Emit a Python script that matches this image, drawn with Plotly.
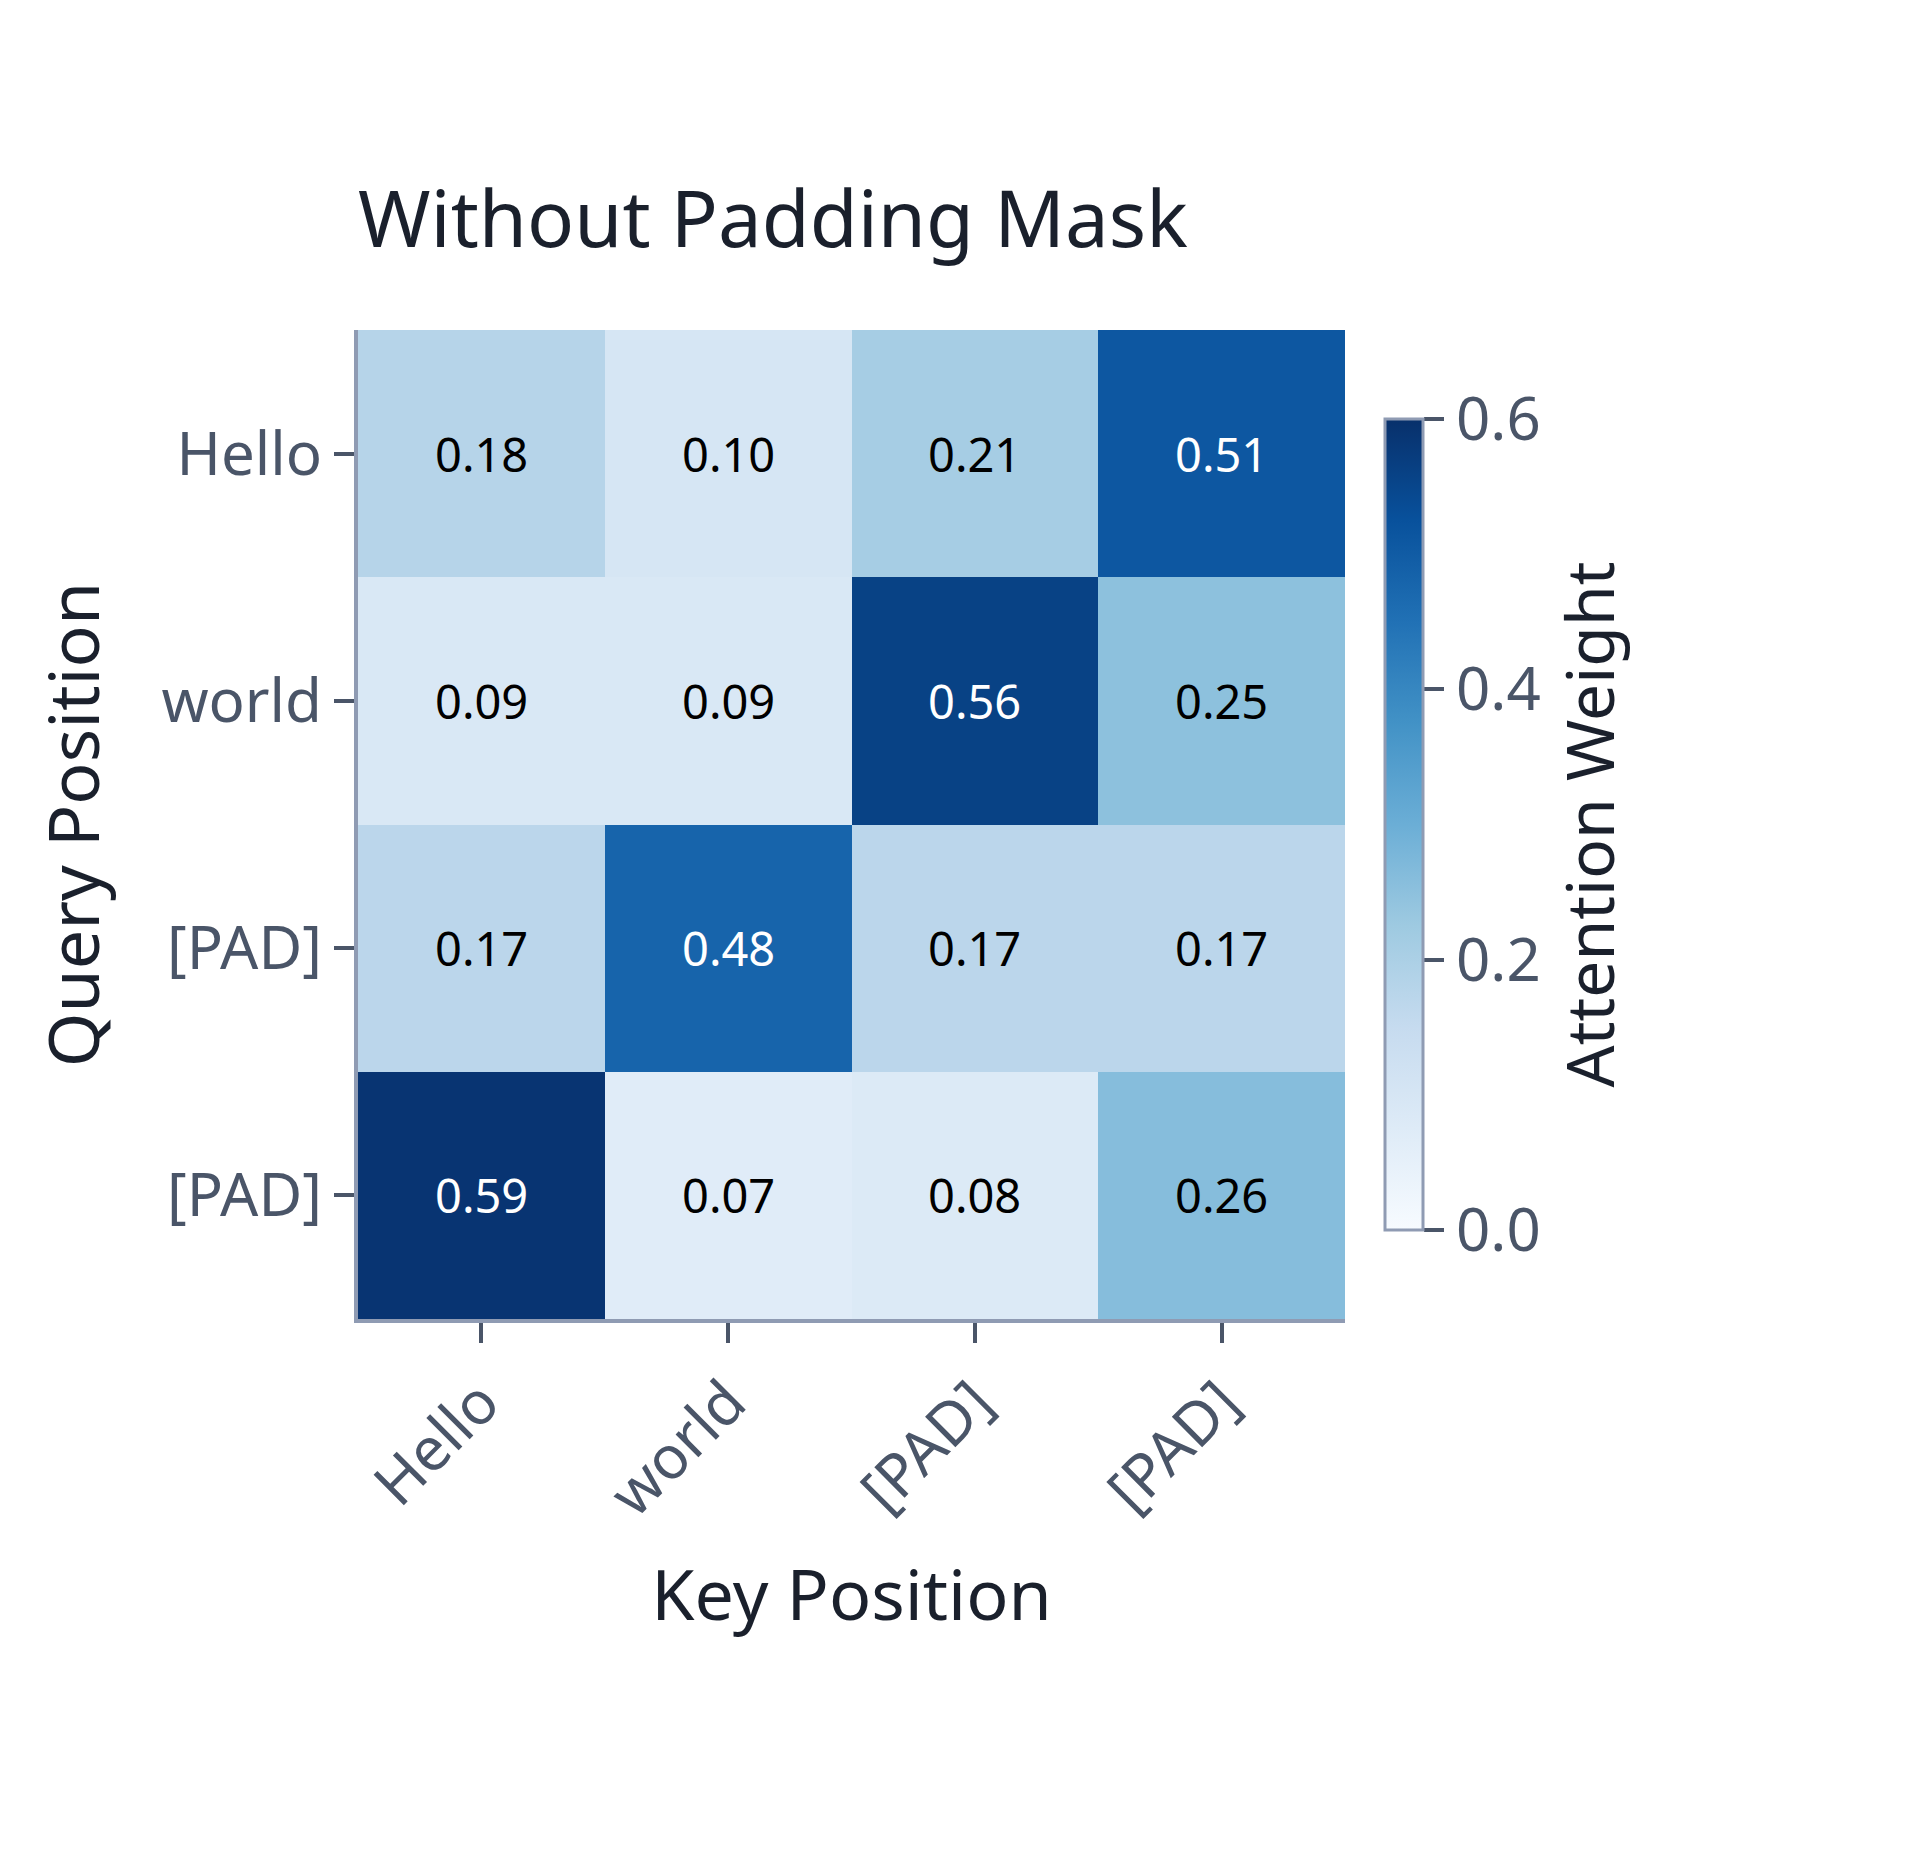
import plotly.graph_objects as go

keys = ["Hello", "world", "[PAD]", "[PAD]"]
queries = ["Hello", "world", "[PAD]", "[PAD]"]
weights = [
    [0.18, 0.10, 0.21, 0.51],
    [0.09, 0.09, 0.56, 0.25],
    [0.17, 0.48, 0.17, 0.17],
    [0.59, 0.07, 0.08, 0.26],
]

font = "Noto Sans, sans-serif"
idx = list(range(len(keys)))
text_colors = [["white" if v > 0.4 else "black" for v in row] for row in weights]

fig = go.Figure()
fig.add_trace(go.Heatmap(
    z=weights, x=idx, y=idx,
    colorscale="Blues", zmin=0, zmax=0.6,
    showscale=True,
    colorbar=dict(
        x=1.03, xanchor="left", len=0.84, lenmode="fraction", thickness=38,
        outlinecolor="#8f9bb3", outlinewidth=3,
        tickvals=[0, 0.2, 0.4, 0.6], ticktext=["0.0", "0.2", "0.4", "0.6"],
        ticks="outside", ticklen=20, tickwidth=4, tickcolor="#4a5568",
        tickfont=dict(size=60, color="#4a5568", family=font),
        title=dict(text="Attention Weight", side="right",
                   font=dict(size=66, color="#1a202c", family=font)),
    ),
    hoverinfo="skip",
))

for i, row in enumerate(weights):
    for j, v in enumerate(row):
        fig.add_annotation(x=j, y=i, text=f"{v:.2f}", showarrow=False,
                           font=dict(size=47, color=text_colors[i][j], family=font))

fig.update_xaxes(
    tickvals=idx, ticktext=keys, tickangle=-45,
    ticks="outside", ticklen=20, tickwidth=4, tickcolor="#4a5568",
    tickfont=dict(size=60, color="#4a5568", family=font),
    showline=True, linecolor="#8f9bb3", linewidth=4, showgrid=False, zeroline=False,
    title=dict(text="Key Position", font=dict(size=70, color="#1a202c", family=font), standoff=40),
    range=[-0.5, 3.5],
)
fig.update_yaxes(
    tickvals=idx, ticktext=queries, autorange="reversed",
    ticks="outside", ticklen=20, tickwidth=4, tickcolor="#4a5568",
    tickfont=dict(size=60, color="#4a5568", family=font),
    showline=True, linecolor="#8f9bb3", linewidth=4, showgrid=False, zeroline=False,
    title=dict(text="Query Position", font=dict(size=70, color="#1a202c", family=font), standoff=40),
)

fig.update_layout(
    width=1920, height=1865,
    paper_bgcolor="white", plot_bgcolor="white",
    margin=dict(l=350, r=583, t=322, b=554),
    title=dict(text="Without Padding Mask", x=350 / 1920, xanchor="left",
               y=1 - 212 / 1865, yanchor="middle",
               font=dict(size=78, color="#1a202c", family=font)),
)

fig.write_html("out.html")
